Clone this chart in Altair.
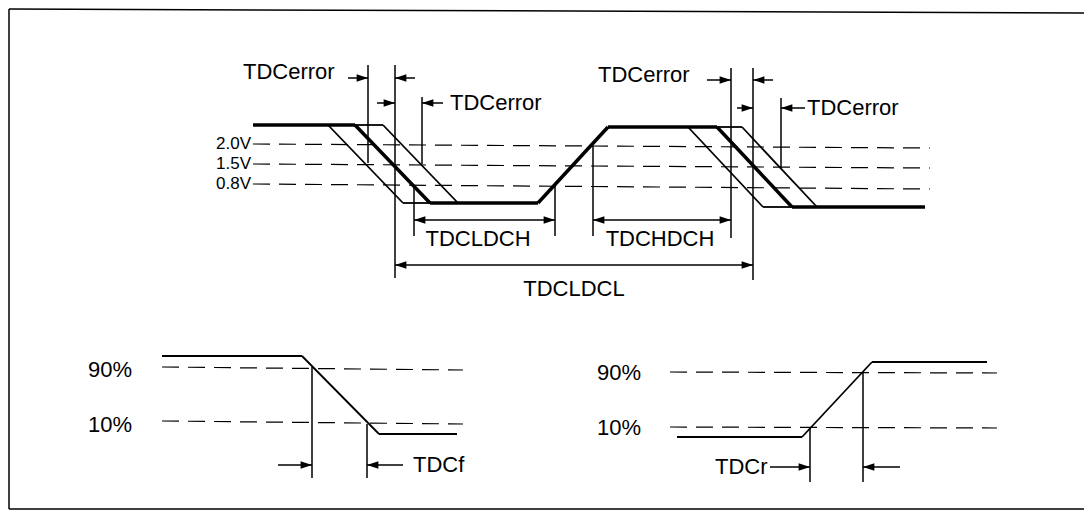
import altair as alt
import pandas as pd

# Canvas (page pixel coordinates are used as data units)
W, H = 1076, 503
XDOM = [8, 8 + W]
YDOM = [8, 8 + H]

# ---------------- data ----------------
# frame edges (top runs off the right edge of the picture)
FRAME = [((9, 9), (1100, 13)), ((9, 9), (9, 509)), ((9, 509), (1100, 509))]

# main waveform (thick)
WAVE_X = [253, 355, 430, 538, 608, 717, 792, 925]
WAVE_Y = [125, 125, 203, 203, 127, 127, 207, 207]

# thin error-band outlines (polylines)
BAND_LINES = [
    ([328, 403, 430], [125, 203, 203]),
    ([355, 383, 458], [125, 125, 203]),
    ([688, 763, 792], [127, 207, 207]),
    ([717, 742, 817], [127, 127, 207]),
    # lower-left fall example
    ([162, 302, 379, 457], [356, 356, 434, 434]),
    # lower-right rise example
    ([677, 802, 872, 987], [437, 437, 362, 362]),
]

# dashed reference levels (x1, y1, x2, y2)
LEVEL_NAMES = ["2.0V", "1.5V", "0.8V", "90%", "10%", "90%", "10%"]
LEVEL_X1 = [253, 253, 253, 162, 162, 670, 670]
LEVEL_Y1 = [144, 164, 184, 367, 421, 372, 427]
LEVEL_X2 = [930, 930, 930, 463, 463, 997, 997]
LEVEL_Y2 = [148, 168, 189, 370, 424, 373, 428]

# vertical marker lines (x, y top, y bottom)
VLINE_X = [368, 395, 422, 414, 555, 593, 731, 753, 781, 312, 367, 810, 863]
VLINE_Y1 = [65, 65, 97, 186, 186, 146, 68, 68, 98, 367, 424, 427, 372]
VLINE_Y2 = [163, 278, 164, 236, 236, 236, 238, 280, 168, 478, 478, 482, 482]

# arrows: tail x, tip x, y
ARROW_TAIL = [348, 415, 377, 443, 707, 773, 737, 805, 278, 403, 770, 900,
              485, 485, 662, 662, 574, 574]
ARROW_TIP = [368, 395, 395, 422, 731, 753, 753, 781, 312, 367, 810, 863,
             414, 555, 593, 731, 395, 753]
ARROW_Y = [78, 78, 103, 103, 80, 80, 108, 108, 465, 465, 467, 467,
           220, 220, 220, 220, 265, 265]

# labels
LABEL_TEXT = ["TDCerror", "TDCerror", "TDCerror", "TDCerror", "TDCf", "TDCr"]
LABEL_X = [243, 450, 598, 807, 413, 715]
LABEL_Y = [72, 103, 75, 108, 465, 467]

SPAN_TEXT = ["TDCLDCH", "TDCHDCH", "TDCLDCL"]
SPAN_X = [478, 660, 574]
SPAN_Y = [239, 239, 289]

VOLT_TEXT = ["2.0V", "1.5V", "0.8V"]
VOLT_X = [251, 251, 251]
VOLT_Y = [144, 164, 184]

PCT_TEXT = ["90%", "10%", "90%", "10%"]
PCT_X = [88, 88, 597, 597]
PCT_Y = [370, 425, 373, 428]

# ---------------- helpers ----------------
xs = alt.Scale(domain=XDOM, nice=False, zero=False)
ys = alt.Scale(domain=YDOM, nice=False, zero=False, reverse=True)


def poly_to_segments(px, py):
    return [dict(x=px[i], y=py[i], x2=px[i + 1], y2=py[i + 1]) for i in range(len(px) - 1)]


def seg_layer(df, width, dash=None):
    kw = dict(color="black", strokeWidth=width, strokeCap="butt")
    if dash:
        kw["strokeDash"] = dash
    return alt.Chart(df).mark_rule(**kw).encode(
        x=alt.X("x:Q", scale=xs, axis=None),
        y=alt.Y("y:Q", scale=ys, axis=None),
        x2="x2:Q",
        y2="y2:Q",
    )


FONT = "Liberation Sans"

frame_df = pd.DataFrame([dict(x=a[0], y=a[1], x2=b[0], y2=b[1]) for a, b in FRAME])
wave_df = pd.DataFrame(poly_to_segments(WAVE_X, WAVE_Y))
band_rows = []
for px, py in BAND_LINES:
    band_rows += poly_to_segments(px, py)
band_df = pd.DataFrame(band_rows)
level_df = pd.DataFrame(dict(name=LEVEL_NAMES, x=LEVEL_X1, y=LEVEL_Y1, x2=LEVEL_X2, y2=LEVEL_Y2))
vline_df = pd.DataFrame(dict(x=VLINE_X, y=VLINE_Y1, x2=VLINE_X, y2=VLINE_Y2))
shaft_df = pd.DataFrame(dict(x=ARROW_TAIL, y=ARROW_Y, x2=ARROW_TIP, y2=ARROW_Y))
head_df = pd.DataFrame(dict(
    x=ARROW_TIP, y=ARROW_Y,
    ang=[0 if tip > tail else 180 for tail, tip in zip(ARROW_TAIL, ARROW_TIP)],
))

ARROW_PATH = "M0,0 L-1,-0.32 L-1,0.32 Z"
heads = alt.Chart(head_df).mark_point(
    shape=ARROW_PATH, filled=True, size=520, color="black", opacity=1, strokeWidth=0
).encode(
    x=alt.X("x:Q", scale=xs, axis=None),
    y=alt.Y("y:Q", scale=ys, axis=None),
    angle=alt.Angle("ang:Q", scale=None),
)


def text_layer(texts, tx, ty, align, size, font=FONT):
    df = pd.DataFrame(dict(t=texts, x=tx, y=ty))
    return alt.Chart(df).mark_text(
        align=align, baseline="middle", font=font, fontSize=size, color="black"
    ).encode(
        x=alt.X("x:Q", scale=xs, axis=None),
        y=alt.Y("y:Q", scale=ys, axis=None),
        text="t:N",
    )


chart = alt.layer(
    seg_layer(frame_df, 1.5),
    seg_layer(level_df, 1.2, [17, 9]),
    seg_layer(band_df, 1.8),
    seg_layer(wave_df, 3.5),
    seg_layer(vline_df, 1.5),
    seg_layer(shaft_df, 1.5),
    heads,
    text_layer(LABEL_TEXT, LABEL_X, LABEL_Y, "left", 22),
    text_layer(SPAN_TEXT, SPAN_X, SPAN_Y, "center", 22),
    text_layer(VOLT_TEXT, VOLT_X, VOLT_Y, "right", 17, "Liberation Sans Narrow, Liberation Sans"),
    text_layer(PCT_TEXT, PCT_X, PCT_Y, "left", 22),
).properties(
    width=W, height=H, padding=0, background="white",
    autosize=alt.AutoSizeParams(type="none"),
).configure_view(strokeWidth=0, strokeOpacity=0)

chart.save("out.html", embed_options={"renderer": "svg", "actions": False})
